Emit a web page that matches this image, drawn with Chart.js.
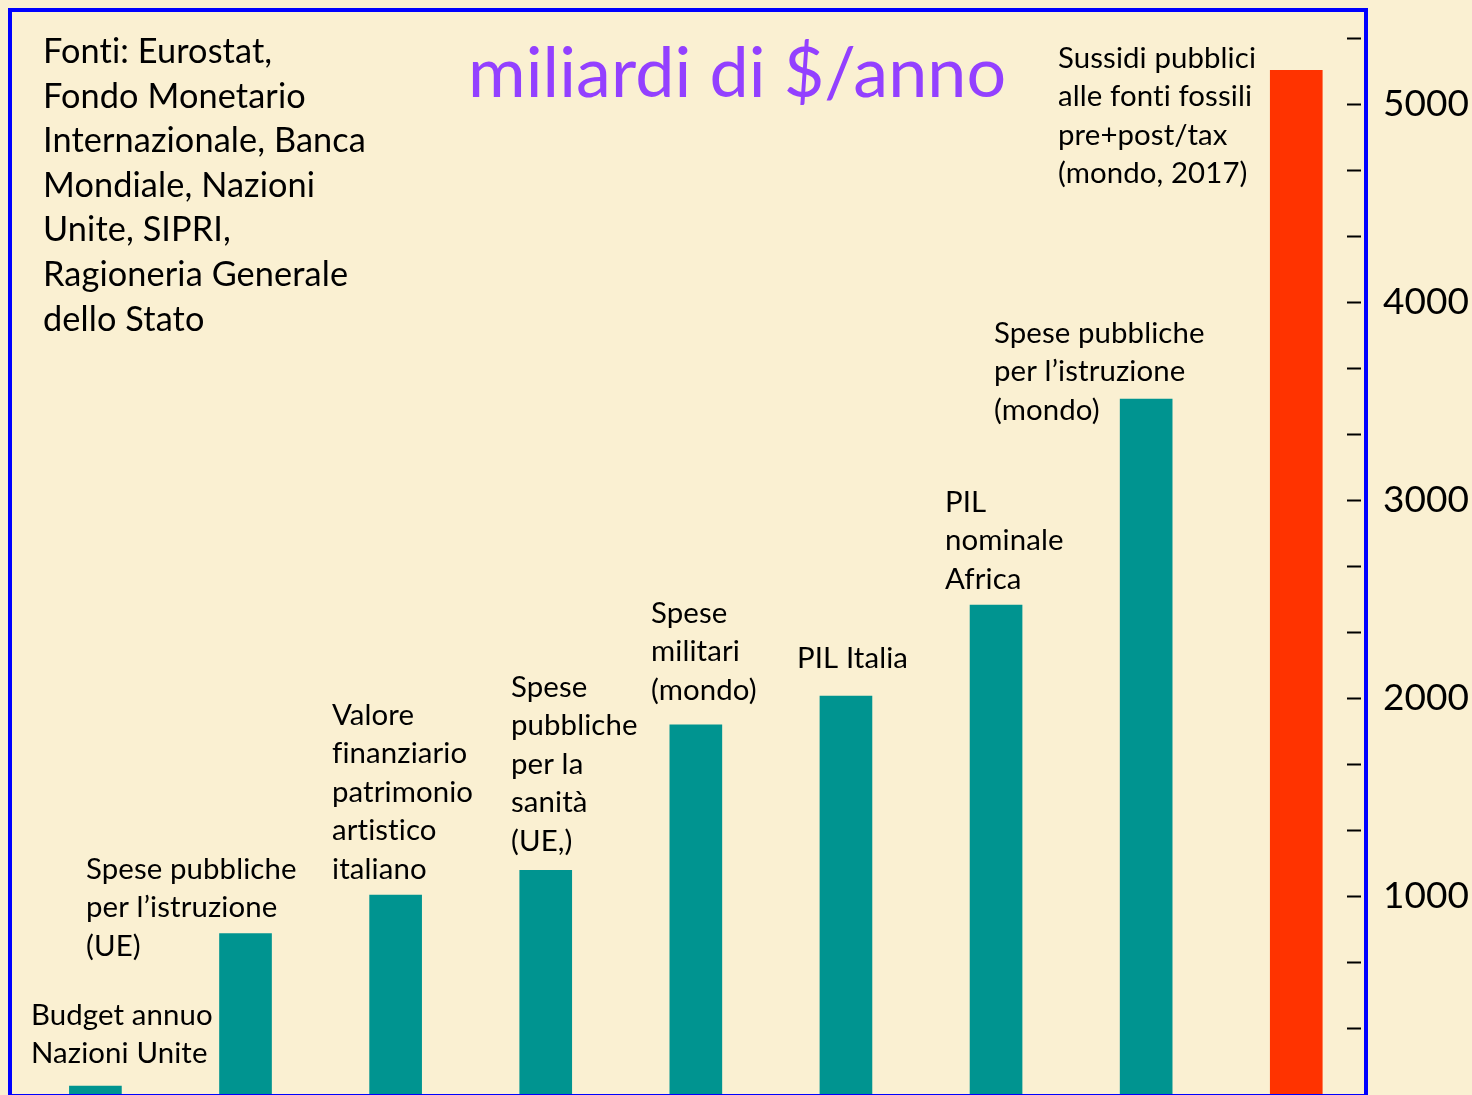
<!DOCTYPE html>
<html lang="it">
<head>
  <meta charset="UTF-8" />
  <title>miliardi di $/anno</title>
  <script src="https://cdn.jsdelivr.net/npm/chart.js"></script>
  <style>
    html, body { margin: 0; padding: 0; background: #FAF0D2; }
    #box { width: 1472px; height: 1095px; position: relative; }
  </style>
</head>
<body>
<div id="box"><canvas id="grafico"></canvas></div>
<script>
  // dati (miliardi di $/anno)
  const voci = [
    ["Budget annuo", "Nazioni Unite"],
    ["Spese pubbliche", "per l’istruzione", "(UE)"],
    ["Valore", "finanziario", "patrimonio", "artistico", "italiano"],
    ["Spese", "pubbliche", "per la", "sanità", "(UE,)"],
    ["Spese", "militari", "(mondo)"],
    ["PIL Italia"],
    ["PIL", "nominale", "Africa"],
    ["Spese pubbliche", "per l’istruzione", "(mondo)"],
    ["Sussidi pubblici", "alle fonti fossili", "pre+post/tax", "(mondo, 2017)"]
  ];
  const valori = [40, 810, 1005, 1130, 1865, 2010, 2470, 3510, 5170];
  const etichetteY = [1000, 2000, 3000, 4000, 5000];
  const fonti = ["Fonti: Eurostat,", "Fondo Monetario", "Internazionale, Banca",
    "Mondiale, Nazioni", "Unite, SIPRI,", "Ragioneria Generale", "dello Stato"];
  const titolo = "miliardi di $/anno";

  const TEAL = "#009490";
  const ROSSO = "#FF3300";
  const FONT = 'Lato, "Open Sans", sans-serif';
  const passoMinore = 1000 / 3;

  // posizione (sinistra, prima linea di base) dei testi sopra le barre
  const posVoci = [
    [31, 1025], [86, 879], [332, 725], [511, 697], [651, 623],
    [797, 668], [945, 512], [994, 343], [1058, 68]
  ];

  const testiPlugin = {
    id: "testi",
    beforeDraw(chart) {
      const { ctx, width, height } = chart;
      ctx.save();
      ctx.fillStyle = "#FAF0D2";
      ctx.fillRect(0, 0, width, height);
      ctx.restore();
    },
    afterDraw(chart) {
      const { ctx } = chart;
      ctx.save();
      // cornice blu
      ctx.strokeStyle = "#0000FF";
      ctx.lineWidth = 4;
      ctx.strokeRect(10, 10, 1356, 1086);

      ctx.textAlign = "left";
      ctx.textBaseline = "alphabetic";
      ctx.fillStyle = "#000";
      ctx.letterSpacing = "0.1px"; // niente legature fi / ti

      ctx.font = "34.3px " + FONT;
      fonti.forEach((riga, i) => ctx.fillText(riga, 43, 63 + i * 44.6));

      ctx.font = "29.4px " + FONT;
      voci.forEach((righe, k) => {
        const [x, y] = posVoci[k];
        righe.forEach((riga, i) => ctx.fillText(riga, x, y + i * 38.4));
      });

      ctx.font = "70px " + FONT;
      ctx.fillStyle = "#9340FF";
      ctx.fillText(titolo, 468, 97);
      ctx.restore();
    }
  };

  new Chart(document.getElementById("grafico"), {
    type: "bar",
    data: {
      datasets: [{
        data: valori.map((v, i) => ({ x: i, y: v })),
        backgroundColor: valori.map((v, i) => i === valori.length - 1 ? ROSSO : TEAL),
        borderWidth: 0,
        barThickness: 52
      }]
    },
    options: {
      responsive: true,
      maintainAspectRatio: false,
      animation: false,
      layout: { padding: { left: 10, right: 0, top: 10, bottom: 1 } },
      plugins: { legend: { display: false }, tooltip: { enabled: false } },
      scales: {
        x: {
          type: "linear",
          display: false,
          offset: false,
          min: -0.569,
          max: 8.338
        },
        y: {
          position: "right",
          min: 0,
          max: 5475,
          border: { display: false },
          grid: {
            drawOnChartArea: false,
            drawTicks: true,
            tickLength: 14,
            tickWidth: 2,
            color: "#000"
          },
          ticks: {
            color: "#000",
            padding: 22,
            font: { family: FONT, size: 37 },
            callback: v => etichetteY.includes(Math.round(v)) && Math.abs(v - Math.round(v)) < 1e-6 ? String(Math.round(v)) : ""
          },
          afterBuildTicks(scale) {
            const ticks = [];
            const n = Math.floor(scale.max / passoMinore);
            for (let i = 1; i <= n; i++) ticks.push({ value: (i * 1000) / 3 });
            scale.ticks = ticks;
          },
          afterFit(scale) {
            scale.width = 125;
            scale.paddingTop = 0;
            scale.paddingBottom = 0;
          }
        }
      }
    },
    plugins: [testiPlugin]
  });
</script>
</body>
</html>
